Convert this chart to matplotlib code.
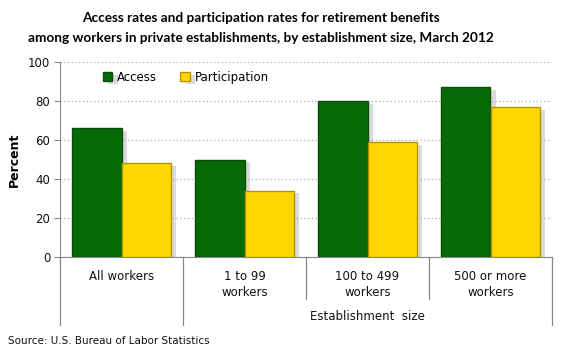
import matplotlib
matplotlib.use("Agg")
import matplotlib.pyplot as plt
import matplotlib.patheffects as pe
import numpy as np

categories = ["All workers", "1 to 99\nworkers", "100 to 499\nworkers", "500 or more\nworkers"]
access = [66, 50, 80, 87]
participation = [48, 34, 59, 77]
series_names = ["Access", "Participation"]
yticks = [0, 20, 40, 60, 80, 100]

W, H = 580, 360
fig = plt.figure(figsize=(W / 100, H / 100), dpi=100)
L, R, T, B = 60, 552, 62, 257
ax = fig.add_axes([L / W, 1 - B / H, (R - L) / W, (B - T) / H])

x = np.arange(len(categories))
bw = 0.4
shadow = [pe.SimplePatchShadow(offset=(4, -2), shadow_rgbFace="#999999", alpha=0.35), pe.Normal()]
b1 = ax.bar(x - bw / 2, access, bw, color="#066a06", edgecolor="#0b4d0b", linewidth=1.0,
            label=series_names[0], zorder=3, path_effects=shadow)
b2 = ax.bar(x + bw / 2, participation, bw, color="#ffd700", edgecolor="#b29500", linewidth=1.0,
            label=series_names[1], zorder=3, path_effects=shadow)

ax.set_xlim(-0.5, len(categories) - 0.5)
ax.set_ylim(0, 100)
ax.set_yticks(yticks)
ax.yaxis.grid(True, linestyle=(0, (1, 2)), color="#aaaaaa", linewidth=0.9, zorder=0)
ax.set_axisbelow(True)
for s in ["top", "right"]:
    ax.spines[s].set_visible(False)
for s in ["left", "bottom"]:
    ax.spines[s].set_color("#888888")
ax.tick_params(axis="y", length=4, color="#888888", labelsize=8.5, labelcolor="#111111", pad=3)
ax.set_xticks(x)
ax.set_xticklabels(categories, fontsize=8.5, color="#111111", linespacing=1.3, va="top")
ax.tick_params(axis="x", length=0, pad=9)

ax.set_ylabel("Percent", fontsize=9, fontweight="bold")
ax.yaxis.set_label_coords((21 - L) / (R - L), 0.5)

# category separators
trans = ax.get_xaxis_transform()
long_y = (B - 325) / (B - T)
short_y = (B - 299) / (B - T)
seps = np.arange(len(categories) + 1) - 0.5
for i, s in enumerate(seps):
    yb = short_y if i in (2, 3) else long_y
    ax.plot([s, s], [0, yb], transform=trans, color="#888888", lw=0.9, clip_on=False)

ax.text(2, (B - 317) / (B - T), "Establishment  size", transform=trans, ha="center", va="center",
        fontsize=8.5, color="#111111")

leg = ax.legend(loc="upper left", bbox_to_anchor=(0.065, 1.01), ncol=2, frameon=False, fontsize=8.5,
                handlelength=0.8, handleheight=0.8, columnspacing=2.0, handletextpad=0.4)

fig.text(261 / W, 1 - 18 / H, "Access rates and participation rates for retirement benefits",
         ha="center", va="center", fontsize=9.8, fontweight="bold", family="Lato")
fig.text(261 / W, 1 - 38 / H, "among workers in private establishments, by establishment size, March 2012",
         ha="center", va="center", fontsize=9.8, fontweight="bold", family="Lato")
fig.text(8 / W, 1 - 341 / H, "Source: U.S. Bureau of Labor Statistics", ha="left", va="center",
         fontsize=7.5, color="#111111")

fig.savefig("out.png", dpi=100, facecolor="white")
